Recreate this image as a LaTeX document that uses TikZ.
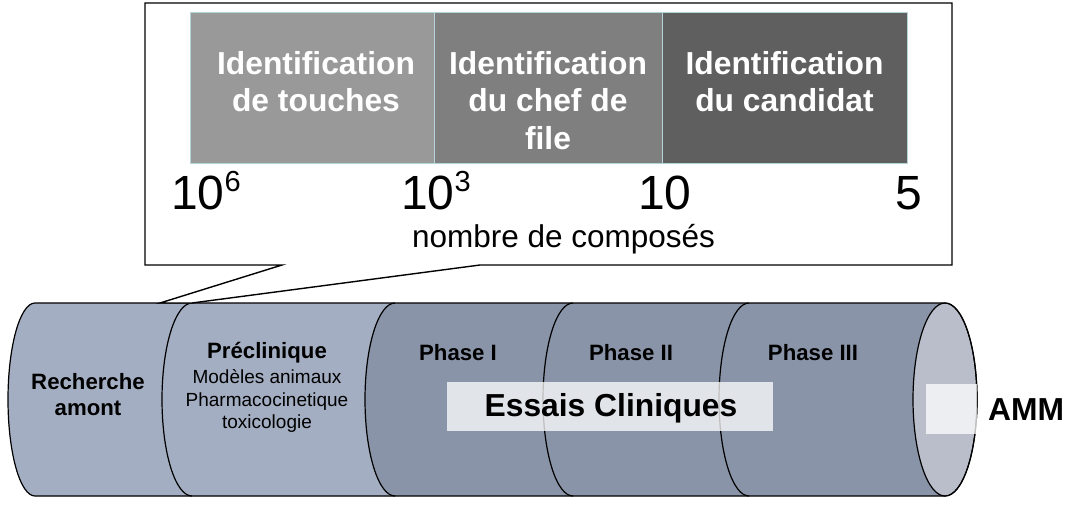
\documentclass[tikz,border=0pt]{standalone}
\usepackage{fontspec}
\setmainfont{Liberation Sans}
\definecolor{segLight}{HTML}{A4AEC2}
\definecolor{segDark}{HTML}{8A94A8}
\definecolor{capFace}{HTML}{B9BECA}
\definecolor{boxA}{HTML}{999999}
\definecolor{boxB}{HTML}{7F7F7F}
\definecolor{boxC}{HTML}{5F5F5F}
\definecolor{boxEdge}{HTML}{B4D4DA}
\tikzset{
  stagebox/.style={draw=boxEdge, line width=0.9pt},
  stagetxt/.style={text=white, font=\bfseries\fontsize{31.8}{37.5}\selectfont, align=center, anchor=north, inner sep=0pt},
  bignum/.style={font=\fontsize{48}{48}\selectfont, anchor=base west, inner sep=0pt},
  phasetxt/.style={font=\bfseries\fontsize{22.2}{26}\selectfont, align=center, inner sep=0pt},
  bandbox/.style={fill=white, fill opacity=0.75, draw=none},
  bandtxt/.style={font=\bfseries\fontsize{31.8}{36}\selectfont, inner sep=0pt},
  cylline/.style={draw=black, line width=1.2pt},
}
\begin{document}
\begin{tikzpicture}[x=1pt,y=-1pt]
\useasboundingbox (0,0) rectangle (1067,511);
% cylinder body
\fill[segDark] (35,303) -- (945,303) arc[start angle=-90,end angle=90,x radius=32,y radius=96.5]
  -- (35,496) arc[start angle=90,end angle=270,x radius=27,y radius=96.5] -- cycle;
\fill[segLight] (35,303) -- (395,303) arc[start angle=270,end angle=90,x radius=30,y radius=96.5]
  -- (35,496) arc[start angle=90,end angle=270,x radius=27,y radius=96.5] -- cycle;
\fill[capFace] (945,399.5) ellipse[x radius=32,y radius=96.5];
% outlines
\draw[cylline] (35,303) -- (945,303) arc[start angle=-90,end angle=90,x radius=32,y radius=96.5]
  -- (35,496) arc[start angle=90,end angle=270,x radius=27,y radius=96.5] -- cycle;
\draw[cylline] (945,399.5) ellipse[x radius=32,y radius=96.5];
\foreach \cx in {192,395,573,749}{
  \draw[cylline] (\cx,303) arc[start angle=270,end angle=90,x radius=30,y radius=96.5];
}
% translucent bands
\fill[bandbox] (447,382) rectangle (773,431);
\fill[bandbox] (926,384) rectangle (977,434);
% labels on cylinder
\node[phasetxt] (rech) at (88,395) {Recherche\\amont};
\node[phasetxt] (precl) at (267,353) {Préclinique};
\node[font=\fontsize{19}{22.5}\selectfont, align=center, inner sep=0pt] (precdet) at (267,401) {Modèles animaux\\Pharmacocinetique\\toxicologie};
\node[phasetxt] (ph1) at (458,353) {Phase I};
\node[phasetxt] (ph2) at (631,353) {Phase II};
\node[phasetxt] (ph3) at (813,353) {Phase III};
\node[bandtxt] (essais) at (611,408) {Essais Cliniques};
\node[bandtxt, anchor=west] (amm) at (988,410) {AMM};
% callout
\draw[fill=white, line width=1.4pt, line join=miter] (145,3) -- (952,3) -- (952,265) -- (480,265) -- (192,303)
  -- (160,303) -- (282,265) -- (145,265) -- cycle;
% stage boxes
\draw[stagebox, fill=boxA] (190,12) rectangle (434,163);
\draw[stagebox, fill=boxB] (434,12) rectangle (662,163);
\draw[stagebox, fill=boxC] (662,12) rectangle (907,163);
\node[stagetxt] (s1) at (316,51) {Identification\\de touches};
\node[stagetxt] (s2) at (548,51) {Identification\\du chef de\\file};
\node[stagetxt] (s3) at (784.5,51) {Identification\\du candidat};
% numbers
\node[bignum] (n1) at (171,209) {10\raisebox{18pt}{\fontsize{29}{29}\selectfont 6}};
\node[bignum] (n2) at (401,209) {10\raisebox{18pt}{\fontsize{29}{29}\selectfont 3}};
\node[bignum] (n3) at (638,209) {10};
\node[bignum] (n4) at (895,209) {5};
\node[font=\fontsize{31.5}{32}\selectfont, anchor=base, inner sep=0pt] (nb) at (563.5,247) {nombre de composés};
\end{tikzpicture}
\end{document}
